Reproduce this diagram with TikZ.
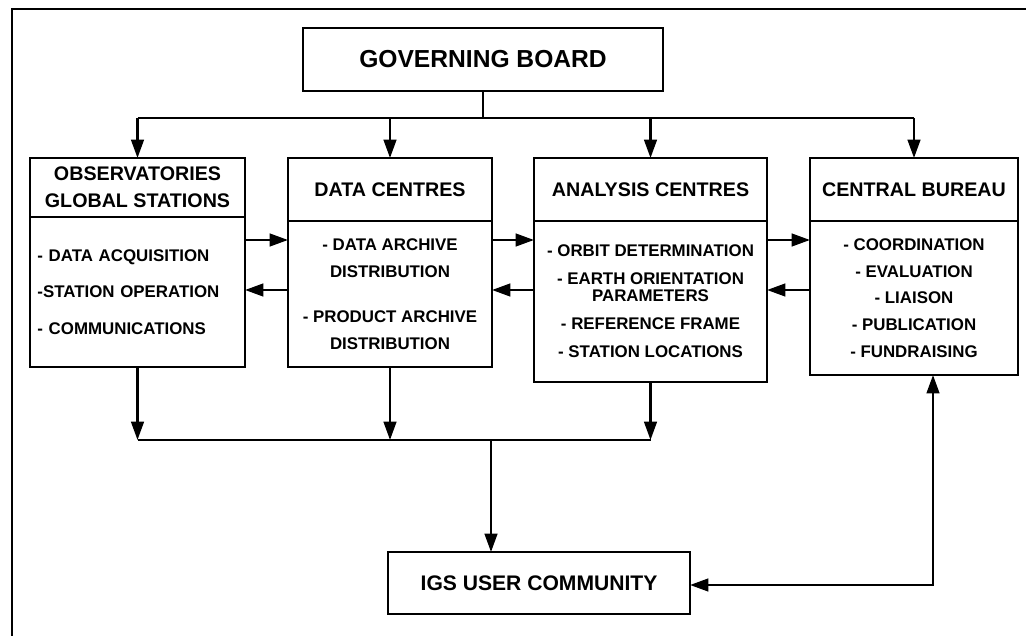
\documentclass[tikz,border=0pt]{standalone}
\usepackage{fontspec}
\setmainfont{Liberation Sans}
\usetikzlibrary{arrows.meta,positioning}

\begin{document}
\begin{tikzpicture}[x=0.025cm,y=-0.025cm,line width=1.6pt,
        >={Triangle[length=13pt,width=9pt]},
        every node/.style={outer sep=0pt},
        headbox/.style={draw, align=center, inner sep=2pt, minimum height=1.575cm,
            font=\fontsize{14}{19}\selectfont\bfseries},
        listbox/.style={draw, align=center, inner sep=2pt,
            font=\fontsize{12}{19}\selectfont\bfseries}]
    \useasboundingbox (0,0) rectangle (1026,636);
    \draw (12,636) -- (12,9) -- (1026,9);

    % top of the chart
    \node[headbox, minimum width=9cm, font=\fontsize{17.5}{21}\selectfont\bfseries] (gb) at (483,59.5) {GOVERNING BOARD};

    % the four groups
    \node[headbox, minimum width=5.375cm, minimum height=1.475cm] (obst) at (137.5,187.5) {OBSERVATORIES\\GLOBAL STATIONS};
    \node[listbox, below=0pt of obst, minimum width=5.375cm, minimum height=3.75cm,
        text width=5cm, inner xsep=0.1875cm, align=left] (obsb)
        {- DATA ACQUISITION\\[7pt]-STATION OPERATION\\[7pt]- COMMUNICATIONS};

    \node[headbox, minimum width=5.1cm] (datat) at (390,189.5) {DATA CENTRES};
    \node[listbox, below=0pt of datat, minimum width=5.1cm, minimum height=3.65cm] (datab)
        {- DATA ARCHIVE\\DISTRIBUTION\\[13pt]- PRODUCT ARCHIVE\\DISTRIBUTION};

    \node[headbox, minimum width=5.825cm] (anat) at (650.5,189.5) {ANALYSIS CENTRES};
    \node[listbox, below=0pt of anat, minimum width=5.825cm, minimum height=4.025cm] (anab)
        {- ORBIT DETERMINATION\\[1pt]- EARTH ORIENTATION\\[-7pt]PARAMETERS\\[1pt]- REFERENCE FRAME\\[1pt]- STATION LOCATIONS};

    \node[headbox, minimum width=5.2cm] (cbt) at (914,189.5) {CENTRAL BUREAU};
    \node[listbox, below=0pt of cbt, minimum width=5.2cm, minimum height=3.85cm] (cbb)
        {- COORDINATION\\- EVALUATION\\- LIAISON\\- PUBLICATION\\- FUNDRAISING};

    % users
    \node[headbox, minimum width=7.55cm, minimum height=1.55cm, font=\fontsize{15}{19}\selectfont\bfseries] (igs) at (539,583) {IGS USER COMMUNITY};

    \coordinate (topbus) at (0,118);
    \coordinate (fwd) at (0,240);
    \coordinate (back) at (0,290);
    \coordinate (lowbus) at (0,440);
    \coordinate (join) at (491,440);
    \coordinate (turn) at (933,585);

    \draw (gb.south) -- (gb.south |- topbus);
    \draw (obst.north |- topbus) -- (cbt.north |- topbus);
    \foreach \n in {obst,datat,anat,cbt}
        \draw[->] (\n.north |- topbus) -- (\n.north);

    \draw[->] (obsb.east |- fwd) -- (datab.west |- fwd);
    \draw[->] (datab.west |- back) -- (obsb.east |- back);
    \draw[->] (datab.east |- fwd) -- (anab.west |- fwd);
    \draw[->] (anab.west |- back) -- (datab.east |- back);
    \draw[->] (anab.east |- fwd) -- (cbb.west |- fwd);
    \draw[->] (cbb.west |- back) -- (anab.east |- back);

    \foreach \n in {obsb,datab,anab}
        \draw[->] (\n.south) -- (\n.south |- lowbus);
    \draw (obsb.south |- lowbus) -- (anab.south |- lowbus);
    \draw[->] (join) -- (igs.north -| join);
    \draw[<->] (cbb.south -| turn) -- (turn) -- (igs.east |- turn);
\end{tikzpicture}
\end{document}
